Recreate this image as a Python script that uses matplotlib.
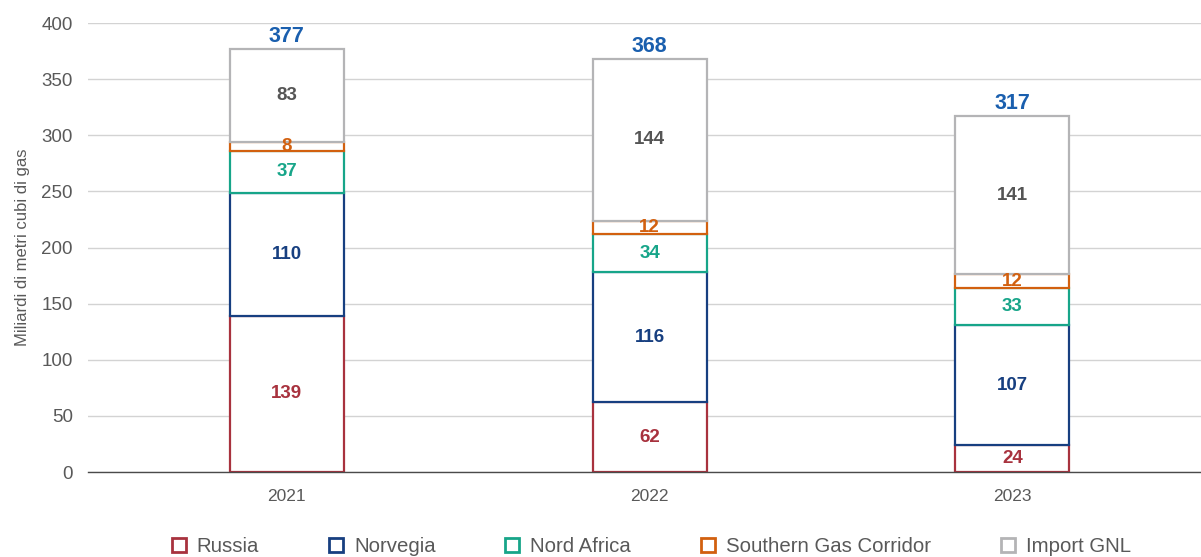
import matplotlib
matplotlib.use("Agg")
import matplotlib.pyplot as plt
from matplotlib.lines import Line2D
import numpy as np

plt.rcParams['font.family'] = ['Liberation Sans', 'DejaVu Sans']

years = ["2021", "2022", "2023"]
series_names = ["Russia", "Norvegia", "Nord Africa", "Southern Gas Corridor", "Import GNL"]
russia = [139, 62, 24]
norvegia = [110, 116, 107]
nord_africa = [37, 34, 33]
southern_gas = [8, 12, 12]
import_gnl = [83, 144, 141]
totals = [377, 368, 317]

edge_colors = ["#a8323e", "#173f80", "#17a589", "#d2600f", "#b4b4b6"]
label_colors = ["#a8323e", "#173f80", "#17a589", "#d2600f", "#555555"]
total_color = "#1a5fae"
text_gray = "#595959"

series = [russia, norvegia, nord_africa, southern_gas, import_gnl]

fig = plt.figure(figsize=(12.01, 5.57), dpi=100)
ax = fig.add_axes([0.0733, 0.1526, 0.9267, 0.8061])

x = np.arange(len(years))
width = 0.314
bottom = np.zeros(len(years))
for vals, ec, lc in zip(series, edge_colors, label_colors):
    vals = np.array(vals, dtype=float)
    ax.bar(x, vals, width=width, bottom=bottom, facecolor="white",
           edgecolor=ec, linewidth=1.6, zorder=3)
    for xi, b, v in zip(x, bottom, vals):
        ax.text(xi, b + v / 2, f"{int(v)}", ha="center", va="center",
                color=lc, fontsize=13.5, fontweight="bold", zorder=4)
    bottom += vals

for xi, t in zip(x, totals):
    ax.text(xi, t + 2, f"{t}", ha="center", va="bottom", color=total_color,
            fontsize=15.5, fontweight="bold", zorder=4)

ax.set_ylim(0, 400)
ax.set_xlim(-0.548, 2.52)
ax.set_yticks(np.arange(0, 401, 50))
ax.set_xticks(x)
ax.set_xticklabels(years)
ax.grid(axis="y", color="#d3d3d3", linewidth=1.0, zorder=0)
ax.axhline(0, color="#4a4a4a", linewidth=1.0, zorder=5, clip_on=False)
for s in ax.spines.values():
    s.set_visible(False)
ax.tick_params(axis="y", length=0, pad=11, labelsize=13.5, labelcolor=text_gray)
ax.tick_params(axis="x", length=0, pad=12, labelsize=12.5, labelcolor=text_gray)
ax.set_ylabel("Miliardi di metri cubi di gas", fontsize=12, color=text_gray, labelpad=8)

handles = [Line2D([], [], marker="s", linestyle="none", markersize=10,
                  markerfacecolor="white", markeredgecolor=c, markeredgewidth=2)
           for c in edge_colors]
fig.legend(handles, series_names, loc="lower center", bbox_to_anchor=(0.541, -0.032),
           ncol=5, frameon=False, fontsize=14.7, columnspacing=3.27,
           handlelength=1.0, handletextpad=0.38, labelcolor=text_gray)

fig.savefig("out.png", dpi=100)
